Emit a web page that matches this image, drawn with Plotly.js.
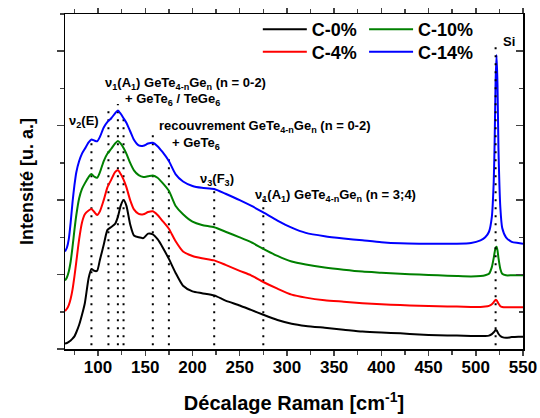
<!DOCTYPE html>
<html>
<head>
<meta charset="utf-8">
<script src="https://cdn.plot.ly/plotly-3.0.1.min.js"></script>
<style>html,body{margin:0;padding:0;background:#fff;}#chart{width:540px;height:418px;}</style>
</head>
<body>
<div id="chart"></div>
<script>
// Raman shift (cm-1)
const ramanShift = [65,67,69,71,73,75,77,80,83,86,90,93,96,99,102,106,110,114,118,121,124,127,130,134,138,143,148,153,158,163,168,175,182,190,200,210,223,235,250,262,275,290,305,320,340,360,380,400,420,440,460,480,495,505,510,514,517,519,520,521,522,523,524,526,528,532,538,545,550];
// Intensities (arbitrary units, offset stacked as in the figure)
const c0 = [0.15,0.16,0.19,0.23,0.28,0.34,0.45,0.65,0.92,1.23,1.9,2.15,2.1,2.1,2.4,2.8,3.2,3.28,3.36,3.55,3.85,4.0,3.85,3.35,3.05,3.0,2.98,3.1,3.08,2.95,2.75,2.42,2.05,1.7,1.55,1.5,1.44,1.3,1.17,1.05,0.92,0.78,0.68,0.62,0.57,0.52,0.47,0.44,0.42,0.39,0.37,0.36,0.35,0.35,0.35,0.36,0.4,0.45,0.48,0.51,0.5,0.46,0.41,0.35,0.32,0.3,0.32,0.33,0.33];
const c4 = [1.02,1.08,1.18,1.35,1.6,1.95,2.35,2.95,3.4,3.62,3.72,3.76,3.68,3.6,3.7,4.0,4.35,4.55,4.75,4.8,4.7,4.55,4.35,4.0,3.75,3.63,3.62,3.68,3.7,3.6,3.45,3.23,2.9,2.62,2.5,2.44,2.38,2.26,2.1,1.98,1.8,1.62,1.46,1.38,1.31,1.27,1.23,1.2,1.18,1.16,1.15,1.14,1.13,1.13,1.14,1.16,1.2,1.26,1.29,1.32,1.31,1.27,1.22,1.15,1.13,1.12,1.12,1.12,1.12];
const c10 = [1.84,1.92,2.08,2.35,2.75,3.2,3.6,4.05,4.3,4.45,4.62,4.7,4.63,4.6,4.75,5.05,5.25,5.38,5.52,5.59,5.52,5.4,5.25,5.0,4.8,4.67,4.62,4.64,4.66,4.6,4.47,4.25,3.85,3.62,3.42,3.33,3.27,3.15,3.0,2.87,2.69,2.5,2.35,2.27,2.19,2.13,2.08,2.05,2.02,2.0,1.98,1.96,1.95,1.96,1.98,2.02,2.2,2.45,2.6,2.72,2.75,2.65,2.45,2.15,2.02,1.98,1.98,1.98,1.98];
const c14 = [2.62,2.72,2.95,3.4,3.95,4.4,4.75,5.05,5.25,5.38,5.55,5.63,5.6,5.58,5.7,5.95,6.1,6.2,6.33,6.41,6.32,6.2,6.08,5.85,5.62,5.47,5.46,5.52,5.54,5.45,5.3,5.05,4.7,4.5,4.38,4.33,4.3,4.17,4.0,3.85,3.67,3.45,3.26,3.12,3.03,2.97,2.92,2.87,2.84,2.83,2.83,2.83,2.85,2.92,3.0,3.15,3.55,4.5,5.6,7.2,7.9,7.1,5.4,3.8,3.25,3.0,2.88,2.85,2.83];
const seriesNames = ['C-0%','C-4%','C-10%','C-14%'];
const seriesColors = ['#000000','#ff0000','#008000','#0000ff'];
// Band positions (dotted guide lines) and their top extents
const bandPositions = [93,111,121,127,158,175,223,275,521];
const bandTops = [5.6,6.42,6.58,6.31,5.78,5.13,4.3,4.17,8.26];
const bandBottom = 0.1;
// Band labels
const bandLabels = [
  'ν<sub>2</sub>(E)',
  'ν<sub>1</sub>(A<sub>1</sub>) GeTe<sub>4-n</sub>Ge<sub>n</sub> (n = 0-2)',
  '+ GeTe<sub>6</sub> / TeGe<sub>6</sub>',
  'recouvrement GeTe<sub>4-n</sub>Ge<sub>n</sub> (n = 0-2)',
  '+ GeTe<sub>6</sub>',
  'ν<sub>3</sub>(F<sub>3</sub>)',
  'ν<sub>1</sub>(A<sub>1</sub>) GeTe<sub>4-n</sub>Ge<sub>n</sub> (n = 3;4)',
  'Si'
];
const labelX = [67.5,105.3,126.5,162.5,176.3,205.9,264.2,527];
const labelY = [6.1,7.14,6.69,5.97,5.51,4.55,4.12,8.27];
const xTickVals = [100,150,200,250,300,350,400,450,500,550];

const FONT = '"Liberation Sans", Arial, sans-serif';
const allY = [c0,c4,c10,c14];
// legend slot for each series: C-0% top-left, C-4% bottom-left, C-10% top-right, C-14% bottom-right
const legendIds = ['legend','legend2','legend3','legend4'];
const legendPos = [[0.421,1.006],[0.421,0.939],[0.653,1.006],[0.653,0.939]];

const traces = [];
bandPositions.forEach((bx,i)=>{
  traces.push({x:[bx,bx], y:[bandBottom,bandTops[i]], mode:'lines', showlegend:false, hoverinfo:'skip',
    yaxis: i===bandPositions.length-1 ? 'y2' : 'y',
    line:{color:'#000', width:2, dash:'2px,6px'}});
});
allY.forEach((ys,i)=>{
  traces.push({x:ramanShift, y:ys, name:seriesNames[i], mode:'lines', legend:legendIds[i],
    line:{color:seriesColors[i], width:2, shape:'spline', smoothing:0.6}});
});

const annotations = bandLabels.map((t,i)=>({
  x:labelX[i], y:labelY[i], xref:'x', yref:'y', text:t, showarrow:false,
  xanchor:'left', yanchor:'middle',
  font:{family:FONT, size:13, weight:'bold', color:'#000'}
}));

const layout = {
  width:540, height:418,
  margin:{l:65, r:17, t:13, b:69},
  paper_bgcolor:'#fff', plot_bgcolor:'#fff',
  font:{family:FONT, color:'#000'},
  showlegend:true,
  xaxis:{range:[65,550], tickmode:'array', tickvals:xTickVals, ticks:'outside', ticklen:5, tickwidth:1.5,
    ticklabelstandoff:-3,
    showline:true, linewidth:1.5, linecolor:'#000', mirror:'ticks', showgrid:false, zeroline:false,
    minor:{dtick:25, tick0:0, ticks:'outside', ticklen:4, tickwidth:1.5, showgrid:false},
    tickfont:{family:FONT, size:17, weight:'bold', color:'#000'},
    title:{text:'Décalage Raman [cm<sup>-1</sup>]', font:{family:FONT, size:20, weight:'bold', color:'#000'}, standoff:20}},
  yaxis:{range:[0,9], dtick:2, tick0:0, ticks:'outside', ticklen:7, tickwidth:1.5, showticklabels:false,
    showline:true, linewidth:1.5, linecolor:'#000', showgrid:false, zeroline:false,
    minor:{dtick:1, tick0:0, ticks:'outside', ticklen:4, tickwidth:1.5, showgrid:false},
    title:{text:'Intensité [u. a.]', font:{family:FONT, size:18, weight:'bold', color:'#000'}, standoff:18}},
  yaxis2:{range:[0,9], overlaying:'y', side:'right', dtick:2, tick0:0, ticks:'inside', ticklen:7, tickwidth:1.5,
    showticklabels:false, showline:true, linewidth:1.5, linecolor:'#000', showgrid:false, zeroline:false,
    minor:{dtick:1, tick0:0, ticks:'inside', ticklen:4, tickwidth:1.5, showgrid:false}},
  annotations:annotations
};
legendIds.forEach((id,i)=>{
  layout[id] = {x:legendPos[i][0], y:legendPos[i][1], xanchor:'left', yanchor:'top',
    bgcolor:'rgba(0,0,0,0)', borderwidth:0, itemwidth:44,
    font:{family:FONT, size:18, weight:'bold', color:'#000'}};
});
Plotly.newPlot('chart', traces, layout, {displayModeBar:false, staticPlot:true});
</script>
</body>
</html>
